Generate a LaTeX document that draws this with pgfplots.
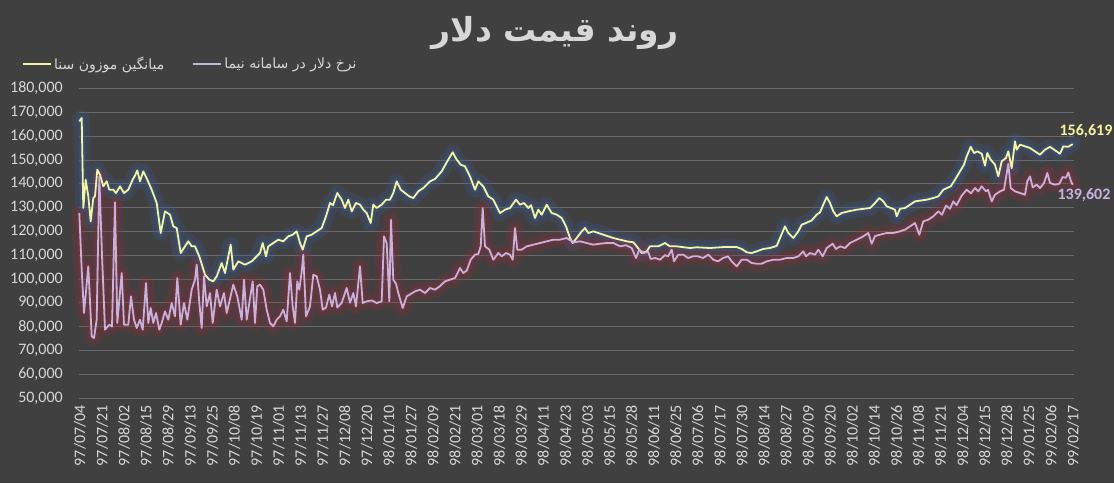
\documentclass[border=0pt]{standalone}
\usepackage{pgfplots}
\pgfplotsset{compat=1.18}
\usepackage{pgfplotstable}
\usepackage{fontspec}
\setmainfont{Carlito}
\newfontfamily\arabicfont[Script=Arabic]{DejaVu Sans}
\TeXXeTstate=1
\definecolor{bgcol}{RGB}{64,64,64}
\definecolor{gridcol}{RGB}{105,105,105}
\definecolor{txtcol}{RGB}{215,215,215}
\definecolor{sana}{RGB}{245,245,160}
\definecolor{nima}{RGB}{198,178,222}
\definecolor{glowY}{RGB}{55,95,160}
\definecolor{glowL}{RGB}{150,45,55}

\pgfplotstableread{
x y
79.3 166200
81.7 167600
83.3 129800
85.7 141700
88.3 134700
90.7 124200
93.3 134000
95 134700
97.3 145900
100 143800
103.3 138900
106.7 141000
109.3 137500
113.3 137500
116 136100
120 138900
124 136100
128.3 137500
132.7 141700
135 143400
137.3 145600
140 141000
143.3 145200
147.3 141700
151.7 137500
156.7 131900
160.7 119300
165 128400
170 127000
173.3 122100
176.7 121400
180.7 110900
185 113700
188.3 115800
191.7 113700
195 113700
199.3 109500
205 101800
209.3 99700
213.3 99000
216.7 101100
221.7 106700
225 102500
230.7 114400
233.3 103900
238.3 107400
245 106000
251.7 107400
255 108800
260 110900
262.7 115100
266 109500
268.3 113700
273.3 115100
278.3 116500
283.3 115800
288.3 117900
292.7 118600
296.7 120000
300 115100
302.7 112300
306.7 117900
311.7 118600
316.7 120000
321.7 121400
326 126300
330 131900
333 131000
337.3 136100
341.7 133300
345 129800
348.3 133300
351.7 128400
356 131900
360 131200
363.3 129100
366.7 127700
370.7 123500
373.3 131200
376.7 129800
381.7 131200
386 133300
390 133300
393.3 136100
396.7 141000
400.7 137500
405 136100
409.3 134700
413.3 134000
418.3 136800
423.3 138200
430 141000
435 142000
441.7 145200
446.7 149000
452.7 153200
456.7 150100
460.7 148000
465 147300
470 143100
475 137500
478.3 141000
483.3 138900
488.3 134700
493.3 133300
500 127700
505 129100
510 129800
516 133300
520 131200
524 131900
528.3 129800
531 131000
535 125600
538.3 129100
541.7 127000
546.7 131200
551.7 127700
556.7 127000
561.7 125600
566 122100
570 117200
572.7 115100
576.7 117200
581.7 120000
585 121400
588.3 119300
593.3 120000
598.3 119300
603.3 118600
608.3 117900
613.3 117200
620 116500
626.7 115800
633.3 115400
636.7 113700
641.7 110900
646.7 111600
650 113700
658.3 113700
665 115100
670 113700
676.7 113700
690 113000
696.7 113300
710 113000
723.3 113400
736.7 113400
741.7 112600
746.7 111200
751.7 110900
756.7 111600
763.3 112600
770 113000
776.7 113900
780.7 117900
785 122100
788.3 119300
793.3 117200
798.3 120000
801.7 122800
806 123500
811.7 124600
816.7 127000
820 128000
824 131900
826.7 134400
830 131900
833.3 128400
836.7 126300
841.7 127700
848.3 128400
856.7 129100
870 129800
875 131900
879.3 134000
883.3 132600
886.7 130500
895 129100
896.7 126300
900 129500
905 129800
915 132600
926.7 133300
933.3 134000
938.3 134700
943.3 137500
950.7 138900
955 141700
960 145200
964 148000
966.7 151500
970.7 155500
974 152900
977.3 153600
981.7 152600
985 147600
987.3 152900
990.7 150100
995 148000
998.3 143100
1001.7 149400
1006 150800
1008.3 153600
1011.7 146500
1015 157800
1016.7 154300
1020 156400
1030 155000
1040 152200
1045 154300
1050 155500
1060 152600
1063.3 155700
1068 155500
1072.7 156619
}\sanatable

\pgfplotstableread{
x y
79.3 127700
81.7 103900
84 85700
88.3 105300
91.7 75900
94 75200
96.7 82900
99.3 143100
102 110000
105 78700
109.3 80800
112 80000
115 132200
117.3 81500
121.7 102500
124 80800
128.3 80800
131 92700
134 82900
136.7 79400
140 82900
142.7 78700
146 98300
148.3 81500
150.7 87800
153.3 81500
156 85700
159.3 78700
161.7 81500
165 86400
168.3 82900
171.7 89900
175 84300
177.3 100400
180.7 80800
184 89900
187.3 82900
191.7 95500
195 99700
196.7 106000
199.3 89900
201.7 79400
204 101100
206.7 88500
210 94100
212.7 81500
216.7 95500
220 88500
224 94100
226.7 85700
233.3 97600
237.3 92700
241.7 82900
244 99700
246.7 82900
252.7 99000
255 81500
257.3 96900
260 97600
263.3 95500
266.7 87100
270 81500
273.3 80100
276.7 82900
280 84300
283.3 87100
286.7 82200
290 102500
292.7 88500
295 81500
297.3 99000
299.3 95500
301.7 103200
303.3 110200
306 84300
310 88500
313.3 101800
316.7 101100
320 95500
322.7 87100
326 88000
329.3 93400
332 88500
335 94100
337.3 88000
341.7 90000
346.7 96200
350 90000
353.3 94100
356 88500
360 105300
362.7 89900
366.7 90600
371.7 91000
376.7 89900
381.7 90600
384 117900
386.7 115000
389.3 90600
391 124900
393.3 99700
396 98000
398.3 94100
402.7 87800
406.7 92700
410 93500
415 94800
420 95500
425 94100
430 96200
435 95500
440 97000
445 99000
450 99700
455 100400
460 104600
463.3 102500
466.7 103500
470.7 108100
475 110200
478.3 110500
480.7 113700
482.7 129800
485 113700
489.3 112300
493.3 108100
498.3 110900
501.7 109500
506 110900
510 110200
512.7 108100
515 121400
517.3 112300
521.7 112300
526.7 113700
533.3 114400
540 115100
546.7 115800
553.3 116500
560 116500
566.7 117200
573.3 115400
580 115800
586.7 115100
593.3 114400
600 114800
606.7 115100
613.3 115100
620 113700
626 114200
631.7 113000
636 108800
639.3 112300
644 110900
648 111500
650.7 108400
655 108800
660 108100
665 110000
668 109500
671.7 112300
674 107400
678.3 110200
683.3 110200
688 108800
693 109500
698 109500
703 108800
708.3 110200
713.3 108100
718 107400
723 108800
728 109500
731.7 107400
736.7 105300
741.7 108100
746.7 108100
751.7 106700
756.7 106400
761.7 106400
766.7 107400
773.3 108100
780 108100
786.7 108800
793.3 108800
798.3 109500
803.3 111600
806 109500
810 110900
815 110200
818.3 112300
822.7 109500
826.7 113000
832.7 114800
836 112600
840 113700
845 113000
850 115100
856.7 116500
863.3 117900
868.3 119300
871.7 114800
875 118000
880 118600
886.7 119300
893.3 119300
900 120000
905 120700
910 122100
915 123500
919.3 118600
923.3 124200
928.3 124900
933.3 126300
938.3 128400
942 127000
946 130800
950 129500
953.3 132600
956.5 131000
961.7 135000
966.7 137500
971 136000
975 138200
978.3 136800
981.7 138900
986 136800
988 137500
991.7 132600
995 135400
1000 136800
1004 137500
1008.3 148400
1010.7 138200
1015 136800
1020 136100
1025 135400
1027.3 141000
1030 143100
1032.7 138500
1036.7 139600
1040 138200
1044 140300
1047.3 144500
1050 140300
1055 139600
1059.3 140000
1062.7 142800
1066 142500
1068.3 144700
1071 141000
1072.7 139602
}\nimatable

\begin{document}
\begin{tikzpicture}
\useasboundingbox (0,0) rectangle (1114pt,483pt);
\fill[bgcol] (0,0) rectangle (1114pt,483pt);
\node[text=txtcol] at (555pt,450pt) {\arabicfont\bfseries\fontsize{33}{40}\selectfont\beginR روند قیمت دلار\endR};
\begin{axis}[
  at={(79pt,85pt)}, anchor=south west,
  scale only axis, width=994.5pt, height=309.5pt,
  xmin=79, xmax=1073.5, ymin=50000, ymax=180000,
  clip=false,
  axis line style={draw=none},
  tick style={draw=none},
  major tick length=0pt,
  ymajorgrids, grid style={gridcol, line width=0.7pt},
  ytick={50000,60000,...,180000},
  scaled y ticks=false,
  /pgf/number format/fixed,
  /pgf/number format/1000 sep={,},
  /pgf/number format/assume math mode=true,
  yticklabel style={font=\fontsize{16}{18}\selectfont, text=txtcol, anchor=east, inner sep=0pt},
  yticklabel shift=16pt,
  xtick={80,102.07,...,1074},
  xticklabels={97/07/04,97/07/21,97/08/02,97/08/15,97/08/29,97/09/13,97/09/25,97/10/08,97/10/19,97/11/01,97/11/13,97/11/27,97/12/08,97/12/20,98/01/10,98/01/27,98/02/09,98/02/21,98/03/01,98/03/18,98/03/29,98/04/11,98/04/23,98/05/03,98/05/15,98/05/28,98/06/11,98/06/25,98/07/06,98/07/17,98/07/30,98/08/14,98/08/27,98/09/09,98/09/20,98/10/02,98/10/14,98/10/26,98/11/08,98/11/21,98/12/04,98/12/15,98/12/28,99/01/25,99/02/06,99/02/17},
  xticklabel style={font=\fontsize{16}{18}\selectfont, text=txtcol, rotate=90, anchor=east, inner sep=0pt},
  xticklabel shift=7pt,
  legend columns=2,
  legend style={at={(axis description cs:-0.0573,1.079)}, anchor=west, draw=none, fill=none,
    inner sep=0pt, text=txtcol, font=\arabicfont\fontsize{14}{16}\selectfont,
    /tikz/every even column/.append style={column sep=26pt},
    nodes={inner sep=2pt}},
  legend image code/.code={\draw[#1, line width=2pt] (0pt,0pt) -- (28pt,0pt);},
]
\addplot[forget plot, glowY, opacity=0.22, line width=16pt, line join=round, line cap=round] table[x=x,y=y] {\sanatable};
\addplot[forget plot, glowL, opacity=0.22, line width=16pt, line join=round, line cap=round] table[x=x,y=y] {\nimatable};
\addplot[forget plot, glowY, opacity=0.3, line width=7pt, line join=round, line cap=round] table[x=x,y=y] {\sanatable};
\addplot[forget plot, glowL, opacity=0.3, line width=7pt, line join=round, line cap=round] table[x=x,y=y] {\nimatable};
\addplot[sana, line width=1.8pt, line join=round] table[x=x,y=y] {\sanatable};
\addlegendentry{\beginR میانگین موزون سنا\endR}
\addplot[nima, line width=1.8pt, line join=round] table[x=x,y=y] {\nimatable};
\addlegendentry{\beginR نرخ دلار در سامانه نیما\endR}
\node[text=sana, font=\bfseries\fontsize{16}{18}\selectfont] at (axis cs:1086,162000) {156,619};
\node[text=nima, font=\bfseries\fontsize{16}{18}\selectfont] at (axis cs:1084,135400) {139,602};
\end{axis}
\end{tikzpicture}
\end{document}
